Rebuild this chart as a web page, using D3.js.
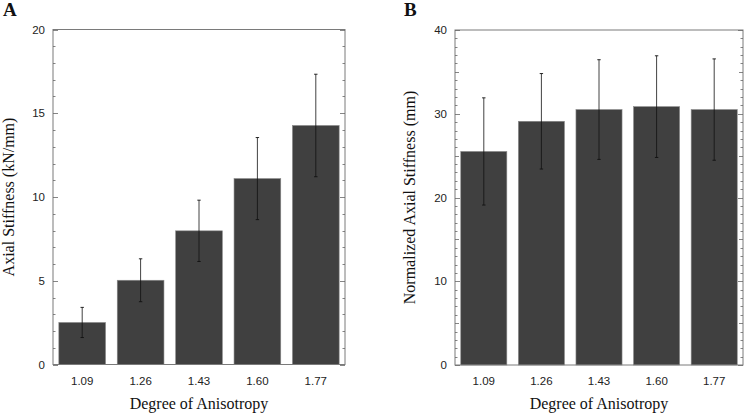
<!DOCTYPE html>
<html><head><meta charset="utf-8">
<script src="https://cdn.jsdelivr.net/npm/d3@7"></script>
<style>body{margin:0;background:#fff}svg{display:block}</style>
</head><body>
<svg id="c" width="749" height="415"></svg>
<script>
const categories = ["1.09","1.26","1.43","1.60","1.77"];
const stiffnessA = [2.51, 5.03, 7.98, 11.1, 14.27];
const errorA = [0.9, 1.28, 1.83, 2.45, 3.06];
const stiffnessB = [25.5, 29.1, 30.5, 30.85, 30.5];
const errorB = [6.4, 5.7, 5.95, 6.07, 6.05];
const yTicksA = [0, 5, 10, 15, 20];
const yTicksB = [0, 10, 20, 30, 40];

const svg = d3.select("#c");

function panel(opts){
  const {x0, x1, y0, y1, max, vals, errs, ticks, minorStep, midStep, title, label, labelX, titleX} = opts;
  const g = svg.append("g");
  const x = d3.scaleBand().domain(categories).range([x0, x1]).paddingInner(0.2).paddingOuter(0.1);
  const y = d3.scaleLinear().domain([0, max]).range([y1, y0]);

  // bars
  g.selectAll("rect.bar").data(vals).join("rect")
    .attr("x", (d,i)=>x(categories[i]))
    .attr("y", d=>y(d))
    .attr("width", x.bandwidth())
    .attr("height", d=>y(0)-y(d))
    .attr("fill", "#404040")
    .attr("stroke", "#8a8a8a").attr("stroke-width", 0.6);

  // error bars
  vals.forEach((v,i)=>{
    const cx = x(categories[i]) + x.bandwidth()/2;
    const lo = y(v - errs[i]), hi = y(v + errs[i]);
    g.append("line").attr("x1",cx).attr("x2",cx).attr("y1",lo).attr("y2",hi)
      .attr("stroke","#111").attr("stroke-width",0.8);
    [lo,hi].forEach(yy=>g.append("line").attr("x1",cx-1.7).attr("x2",cx+1.7).attr("y1",yy).attr("y2",yy)
      .attr("stroke","#111").attr("stroke-width",0.9));
  });

  // frame
  g.append("rect").attr("x",x0).attr("y",y0).attr("width",x1-x0).attr("height",y1-y0)
    .attr("fill","none").attr("stroke","#7a7a7a").attr("stroke-width",1);

  // inward ticks both sides
  const minor = d3.range(0, max + 1e-9, minorStep);
  minor.forEach(v=>{
    const isMajor = ticks.includes(v);
    const isMid = midStep && Math.abs(v/midStep - Math.round(v/midStep))<1e-9;
    const len = isMajor ? 5 : (isMid ? 4 : 2.5);
    const yy = Math.round(y(v))+0.5;
    g.append("line").attr("x1",x0).attr("x2",x0+len).attr("y1",yy).attr("y2",yy).attr("stroke","#666").attr("stroke-width",0.8);
    g.append("line").attr("x1",x1-len).attr("x2",x1).attr("y1",yy).attr("y2",yy).attr("stroke","#666").attr("stroke-width",0.8);
  });

  // y tick labels
  g.selectAll("text.yt").data(ticks).join("text")
    .attr("x", x0 - 8).attr("y", d=>y(d)).attr("dy","0.35em")
    .attr("text-anchor","end").attr("font-family","Liberation Sans, Arial, sans-serif")
    .attr("font-size",11.5).attr("fill","#222").text(d=>d);

  // x tick labels
  g.selectAll("text.xt").data(categories).join("text")
    .attr("x", d=>x(d)+x.bandwidth()/2).attr("y", y1+20)
    .attr("text-anchor","middle").attr("font-family","Liberation Sans, Arial, sans-serif")
    .attr("font-size",11.5).attr("fill","#222").text(d=>d);

  // x title
  g.append("text").attr("x",(x0+x1)/2).attr("y",y1+44).attr("text-anchor","middle")
    .attr("font-family","Liberation Serif, Times New Roman, serif").attr("font-size",16).attr("fill","#111")
    .text("Degree of Anisotropy");

  // y title
  g.append("text").attr("transform",`translate(${titleX},${(y0+y1)/2}) rotate(-90)`)
    .attr("text-anchor","middle")
    .attr("font-family","Liberation Serif, Times New Roman, serif").attr("font-size",16).attr("fill","#111")
    .text(title);

  // panel label
  g.append("text").attr("x",labelX).attr("y",16)
    .attr("font-family","Liberation Serif, Times New Roman, serif").attr("font-weight","bold")
    .attr("font-size",19).attr("fill","#111").text(label);
}

panel({x0:53, x1:345, y0:29.5, y1:364.5, max:20, vals:stiffnessA, errs:errorA, ticks:yTicksA,
  minorStep:1, midStep:null, title:"Axial Stiffness (kN/mm)", label:"A", labelX:3, titleX:14});
panel({x0:455, x1:743, y0:30, y1:365, max:40, vals:stiffnessB, errs:errorB, ticks:yTicksB,
  minorStep:1, midStep:5, title:"Normalized Axial Stiffness (mm)", label:"B", labelX:404, titleX:415});
</script>
</body></html>
